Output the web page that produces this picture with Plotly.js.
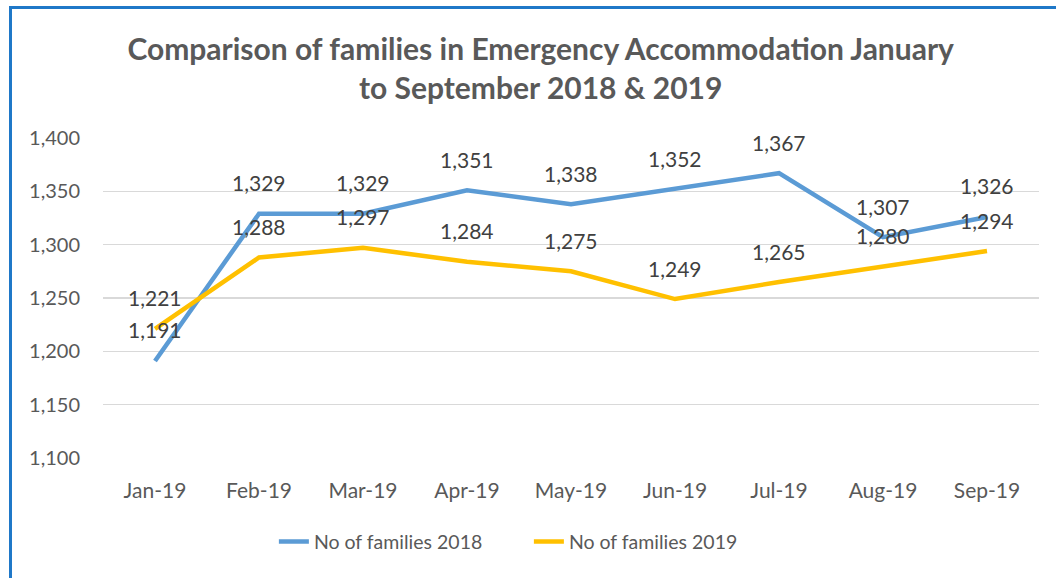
<!DOCTYPE html>
<html>
<head>
<meta charset="utf-8">
<script src="https://cdn.plot.ly/plotly-3.0.1.min.js"></script>
<style>
html,body{margin:0;padding:0;background:#fff;}
#wrap{position:relative;width:1056px;height:578px;}
#chart{position:absolute;left:0;top:0;width:1056px;height:578px;}
#frame{position:absolute;left:9px;top:6px;width:1047px;height:572px;border-top:3px solid #1F78C8;border-left:3px solid #1F78C8;box-sizing:border-box;pointer-events:none;}
</style>
</head>
<body>
<div id="wrap"><div id="chart"></div><div id="frame"></div></div>
<script>
const months = ["Jan-19","Feb-19","Mar-19","Apr-19","May-19","Jun-19","Jul-19","Aug-19","Sep-19"];
const families2018 = [1191,1329,1329,1351,1338,1352,1367,1307,1326];
const families2019 = [1221,1288,1297,1284,1275,1249,1265,1280,1294];
const yTicks = [1100,1150,1200,1250,1300,1350,1400];

const FONT = "Lato, 'Open Sans', sans-serif";

const traces = [
  {x: months, y: families2018, type: "scatter", mode: "lines", name: "No of families 2018",
   line: {color: "#5B9BD5", width: 4.5}},
  {x: months, y: families2019, type: "scatter", mode: "lines", name: "No of families 2019",
   line: {color: "#FFC000", width: 4.5}}
];

const fmt = v => v.toLocaleString("en-US");
const annotations = [];
[families2018, families2019].forEach(series => {
  series.forEach((v, i) => {
    annotations.push({x: months[i], y: v, xref: "x", yref: "y", text: fmt(v),
      showarrow: false, yshift: 31, font: {family: FONT, size: 21, color: "#404040"}});
  });
});

const layout = {
  width: 1056, height: 578,
  margin: {l: 103, r: 17, t: 138, b: 120},
  paper_bgcolor: "#ffffff", plot_bgcolor: "#ffffff",
  title: {text: "Comparison of families in Emergency Accommodation January<br>to September 2018 & 2019",
    font: {family: FONT, size: 30, color: "#595959", weight: "bold"},
    x: 0.512, xanchor: "center", y: 0.896, yanchor: "middle"},
  xaxis: {type: "category", range: [-0.5, 8.5], showgrid: false, zeroline: false, showline: false,
    ticks: "", tickfont: {family: FONT, size: 21, color: "#595959"}, ticklabelstandoff: 18},
  yaxis: {range: [1100, 1400], tickvals: yTicks, ticktext: yTicks.map(fmt),
    showgrid: true, gridcolor: "#D9D9D9", gridwidth: 1.5, zeroline: false, showline: false,
    ticks: "", tickfont: {family: FONT, size: 20, color: "#595959"}, ticklabelstandoff: 22},
  showlegend: true,
  legend: {orientation: "h", x: 0.455, xanchor: "center", y: -0.262, yanchor: "middle",
    font: {family: FONT, size: 19.5, color: "#595959"}, tracegroupgap: 0, entrywidth: 210},
  annotations: annotations
};

Plotly.newPlot("chart", traces, layout, {displayModeBar: false, staticPlot: true});
</script>
</body>
</html>
